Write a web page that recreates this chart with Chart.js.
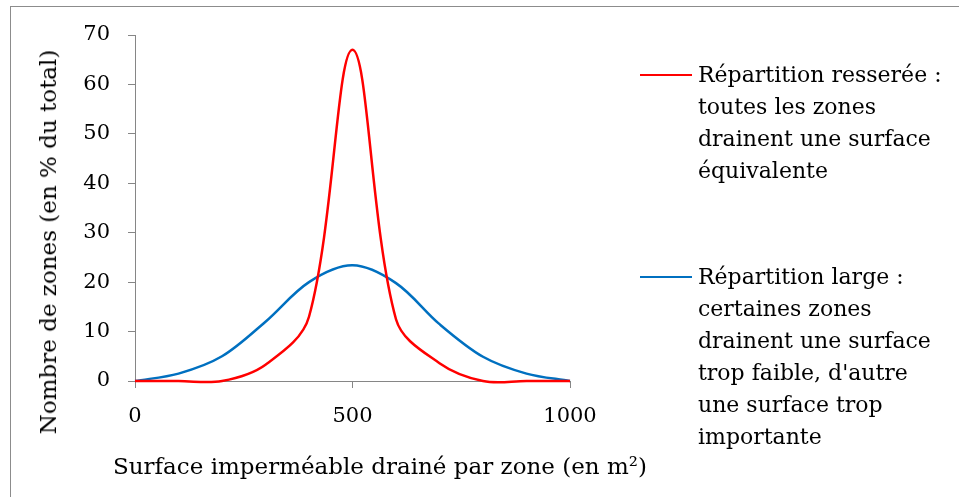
<!DOCTYPE html>
<html>
<head>
<meta charset="utf-8">
<script src="https://cdn.jsdelivr.net/npm/chart.js@4.4.1/dist/chart.umd.min.js"></script>
<style>
  html, body { margin: 0; padding: 0; background: #fff; }
  #wrap { position: relative; width: 959px; height: 497px; overflow: hidden; }
  #frame { position: absolute; left: 10px; top: 6px; width: 960px; height: 500px; border: 1px solid #8c8c8c; box-sizing: border-box; }
  canvas { position: absolute; left: 0; top: 0; }
  .leg { position: absolute; left: 640px; font-family: "DejaVu Serif", serif; font-size: 22px; line-height: 32px; color: #000; }
  .leg .sw { position: absolute; left: 0; width: 52px; height: 0; border-top: 2px solid; top: 15px; }
  .leg .tx { position: absolute; left: 58px; width: 280px; white-space: pre; }
  #xtitle { position: absolute; left: 80px; width: 600px; top: 450px; text-align: center; font-family: "DejaVu Serif", serif; font-size: 23px; line-height: 32px; color: #000; white-space: pre; }
  #ytitle { position: absolute; left: 48px; top: 242px; width: 0; height: 0; }
  #ytitle span { position: absolute; left: 0; top: 0; transform: translate(-50%, -50%) rotate(-90deg); font-family: "DejaVu Serif", serif; font-size: 23px; line-height: 32px; color: #000; white-space: pre; }
</style>
</head>
<body>
<div id="wrap">
  <div id="frame"></div>
  <canvas id="c" width="959" height="497"></canvas>
  <div id="legend"></div>
  <div id="xtitle"></div>
  <div id="ytitle"><span></span></div>
</div>
<script>
// ---- data ----
const xValues = [0, 100, 200, 300, 400, 500, 600, 700, 800, 900, 1000];
const narrowValues = [0, 0, 0, 3.3, 13, 67, 12.5, 3.6, 0, 0, 0];            // Répartition resserée
const wideValues   = [0, 1.5, 5, 12, 20, 23.4, 19.8, 11.5, 4.9, 1.5, 0];    // Répartition large
const seriesLabels = [
  "Répartition resserée :\ntoutes les zones\ndrainent une surface\néquivalente",
  "Répartition large :\ncertaines zones\ndrainent une surface\ntrop faible, d'autre\nune surface trop\nimportante"
];
const seriesColors = ["#FF0000", "#0070C0"];
const xTicks = [0, 500, 1000];
const yTicks = [0, 10, 20, 30, 40, 50, 60, 70];
const xTitle = "Surface imperméable drainé par zone (en m²)";
const yTitle = "Nombre de zones (en % du total)";

const FONT = "'DejaVu Serif', serif";
const axisColor = "#868686";

function toPoints(vals) { return xValues.map((x, i) => ({ x: x, y: vals[i] })); }

const chart = new Chart(document.getElementById('c'), {
  type: 'line',
  data: {
    datasets: [
      { label: seriesLabels[0], data: toPoints(narrowValues), borderColor: seriesColors[0], borderWidth: 2.5, pointRadius: 0, tension: 0.35, fill: false, clip: false },
      { label: seriesLabels[1], data: toPoints(wideValues), borderColor: seriesColors[1], borderWidth: 2.5, pointRadius: 0, tension: 0.33, fill: false, clip: false }
    ]
  },
  options: {
    responsive: false,
    animation: false,
    devicePixelRatio: 1,
    elements: { line: { capBezierPoints: false } },
    layout: { padding: { left: 0, top: 35, right: 389, bottom: 0 } },
    plugins: { legend: { display: false }, tooltip: { enabled: false } },
    scales: {
      x: {
        type: 'linear', min: 0, max: 1000,
        afterBuildTicks: s => { s.ticks = xTicks.map(v => ({ value: v })); },
        afterFit: s => { s.height = 116; },
        grid: { display: true, drawOnChartArea: false, drawTicks: true, tickLength: 7, color: axisColor, lineWidth: 1 },
        border: { display: true, color: axisColor, width: 1 },
        ticks: { color: '#000', font: { family: FONT, size: 21 }, padding: 16, maxRotation: 0, callback: v => String(v) },
        title: { display: false }
      },
      y: {
        type: 'linear', min: 0, max: 70,
        afterBuildTicks: s => { s.ticks = yTicks.map(v => ({ value: v })); },
        afterFit: s => { s.width = 135; },
        grid: { display: true, drawOnChartArea: false, drawTicks: true, tickLength: 7, color: axisColor, lineWidth: 1 },
        border: { display: true, color: axisColor, width: 1 },
        ticks: { color: '#000', font: { family: FONT, size: 21 }, padding: 18, callback: v => String(v) },
        title: { display: false }
      }
    }
  }
});

document.getElementById('xtitle').textContent = xTitle;
document.querySelector('#ytitle span').textContent = yTitle;

// HTML legend built from the dataset labels/colours
const legendTops = [59, 261];
const legend = document.getElementById('legend');
chart.data.datasets.forEach((ds, i) => {
  const d = document.createElement('div');
  d.className = 'leg';
  d.style.top = legendTops[i] + 'px';
  const sw = document.createElement('div');
  sw.className = 'sw';
  sw.style.borderTopColor = ds.borderColor;
  const tx = document.createElement('div');
  tx.className = 'tx';
  tx.textContent = ds.label;
  d.appendChild(sw); d.appendChild(tx);
  legend.appendChild(d);
});
</script>
</body>
</html>
